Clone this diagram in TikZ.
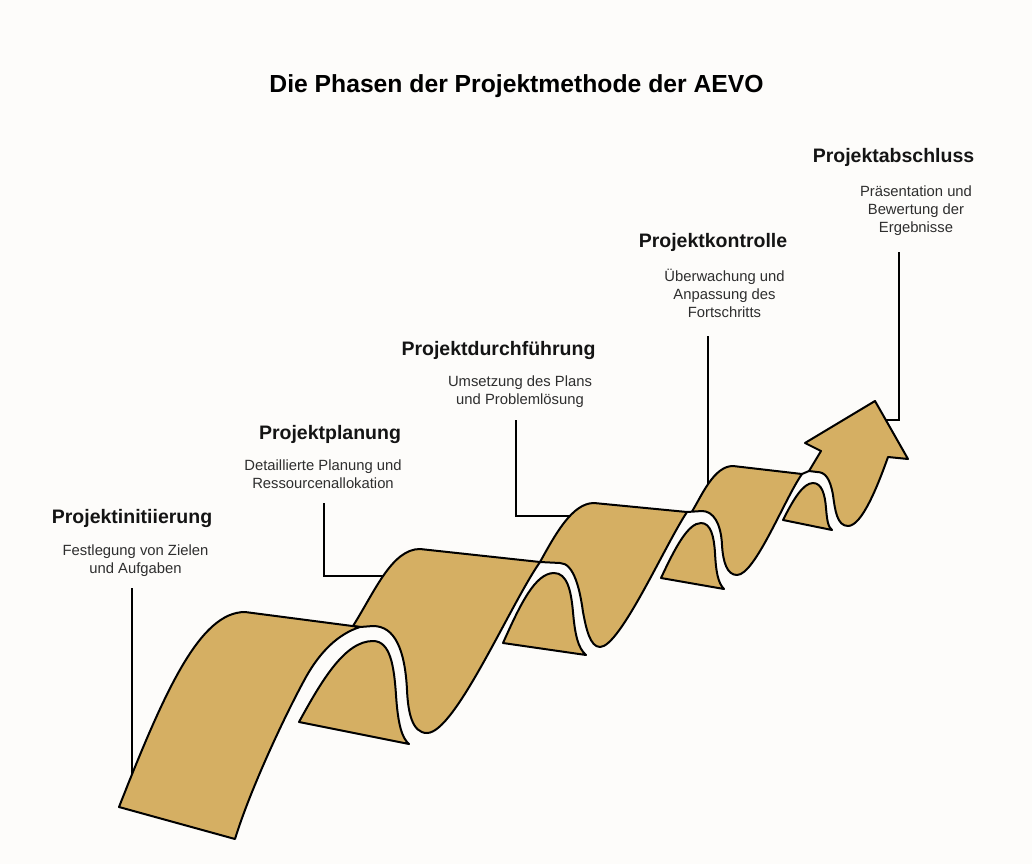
\documentclass[tikz,border=0pt]{standalone}
\usepackage{fontspec}
\setmainfont{Liberation Sans}
\definecolor{gold}{HTML}{D5AF63}
\definecolor{bgc}{HTML}{FDFCFA}
\definecolor{headc}{HTML}{141414}
\definecolor{descc}{HTML}{2E2E2E}
\begin{document}
\begin{tikzpicture}[x=1pt,y=-1pt,
  ribbon/.style={fill=gold, draw=black, line width=2pt, line join=round, line cap=round},
  leader/.style={draw=black, line width=2pt},
  titlestyle/.style={font=\fontsize{24.7}{30}\selectfont\bfseries, text=black, inner sep=0pt, anchor=base},
  phase/.style={font=\fontsize{19.5}{23}\selectfont\bfseries, text=headc, inner sep=0pt, anchor=base},
  desc/.style={font=\fontsize{14.8}{18}\selectfont, text=descc, inner sep=0pt, anchor=base}]
\fill[bgc] (0,0) rectangle (1032,864);
\useasboundingbox (0,0) rectangle (1032,864);

% title
\node[titlestyle] (title) at (516.5,92.5) {Die Phasen der Projektmethode der AEVO};

% phase texts
\node[phase] (p1) at (132,523) {Projektinitiierung};
\node[desc] (d1a) at (135.5,555.5) {Festlegung von Zielen};
\node[desc] (d1b) at (135.5,573.5) {und Aufgaben};

\node[phase] (p2) at (330,439) {Projektplanung};
\node[desc] (d2a) at (323,470.5) {Detaillierte Planung und};
\node[desc] (d2b) at (323,488.5) {Ressourcenallokation};

\node[phase] (p3) at (498.5,355) {Projektdurchführung};
\node[desc] (d3a) at (520,386.5) {Umsetzung des Plans};
\node[desc] (d3b) at (520,404.5) {und Problemlösung};

\node[phase] (p4) at (713,247) {Projektkontrolle};
\node[desc] (d4a) at (724.5,281.5) {Überwachung und};
\node[desc] (d4b) at (724.5,299.5) {Anpassung des};
\node[desc] (d4c) at (724.5,317) {Fortschritts};

\node[phase] (p5) at (893.5,162.5) {Projektabschluss};
\node[desc] (d5a) at (916,196.5) {Präsentation und};
\node[desc] (d5b) at (916,214.5) {Bewertung der};
\node[desc] (d5c) at (916,232) {Ergebnisse};

% leader lines
\coordinate (l1s) at (132,588); \coordinate (l1e) at (132,780);
\coordinate (l2s) at (324,503); \coordinate (l2e) at (392,576);
\coordinate (l3s) at (516,420); \coordinate (l3e) at (578,516);
\coordinate (l4s) at (708,336); \coordinate (l4e) at (708,495);
\coordinate (l5s) at (899,252); \coordinate (l5e) at (880,420);
\draw[leader] (l1s) -- (l1e);
\draw[leader] (l2s) |- (l2e);
\draw[leader] (l3s) |- (l3e);
\draw[leader] (l4s) -- (l4e);
\draw[leader] (l5s) |- (l5e);

% hump pieces (behind)
\draw[ribbon] (299,722) .. controls (322,680) and (345,641) .. (373,641)
  .. controls (390,641) and (394,665) .. (396,695)
  .. controls (398,725) and (402,738) .. (409,744) -- cycle;
\draw[ribbon] (503,643) .. controls (520,605) and (535,573) .. (554,573)
  .. controls (567,573) and (571,590) .. (573,612)
  .. controls (575,635) and (578,648) .. (586,655) -- cycle;
\draw[ribbon] (661,578) .. controls (675,548) and (688,523) .. (701,523)
  .. controls (711,523) and (714,537) .. (715,553)
  .. controls (716,572) and (718,583) .. (724,589) -- cycle;
\draw[ribbon] (783,520) .. controls (793,500) and (803,483) .. (813,483)
  .. controls (822,483) and (825,495) .. (826,508)
  .. controls (827,520) and (828,527) .. (832,530) -- cycle;

% arrow head section
\draw[ribbon] (809,471) -- (821,451) -- (805,443) -- (875,401) -- (908,459) -- (888,457)
  .. controls (878,485) and (862,526) .. (848,526)
  .. controls (837,526) and (835,510) .. (833,495)
  .. controls (830,478) and (825,472) .. (817,472) -- (809,471) -- (802,474);

% section 4
\draw[ribbon] (692,511.5) .. controls (702,495) and (714,466) .. (733,466) -- (802,474)
  .. controls (785,498) and (755,575) .. (737,575)
  .. controls (727,575) and (723,562) .. (722,545)
  .. controls (721,523) and (713,511) .. (702,511) -- (687,512);

% section 3
\draw[ribbon] (540,562) .. controls (555,535) and (572,503) .. (594,503) -- (687,512)
  .. controls (665,545) and (620,647) .. (600,647)
  .. controls (590,647) and (586,628) .. (583,612)
  .. controls (580,590) and (574,563) .. (560,563) -- cycle;

% section 2
\draw[ribbon] (353,626) .. controls (375,591) and (392,549) .. (420,549) -- (540,562)
  .. controls (510,605) and (455,733) .. (427,733)
  .. controls (412,733) and (408,712) .. (407,690)
  .. controls (405,650) and (395,626) .. (373,626) -- (360,627) -- cycle;

% section 1 (front)
\draw[ribbon] (119,807) .. controls (165,690) and (200,612) .. (245,612) -- (360,627)
  .. controls (338,634) and (320,652) .. (306,677)
  .. controls (285,715) and (250,790) .. (235,839) -- cycle;
\end{tikzpicture}
\end{document}
